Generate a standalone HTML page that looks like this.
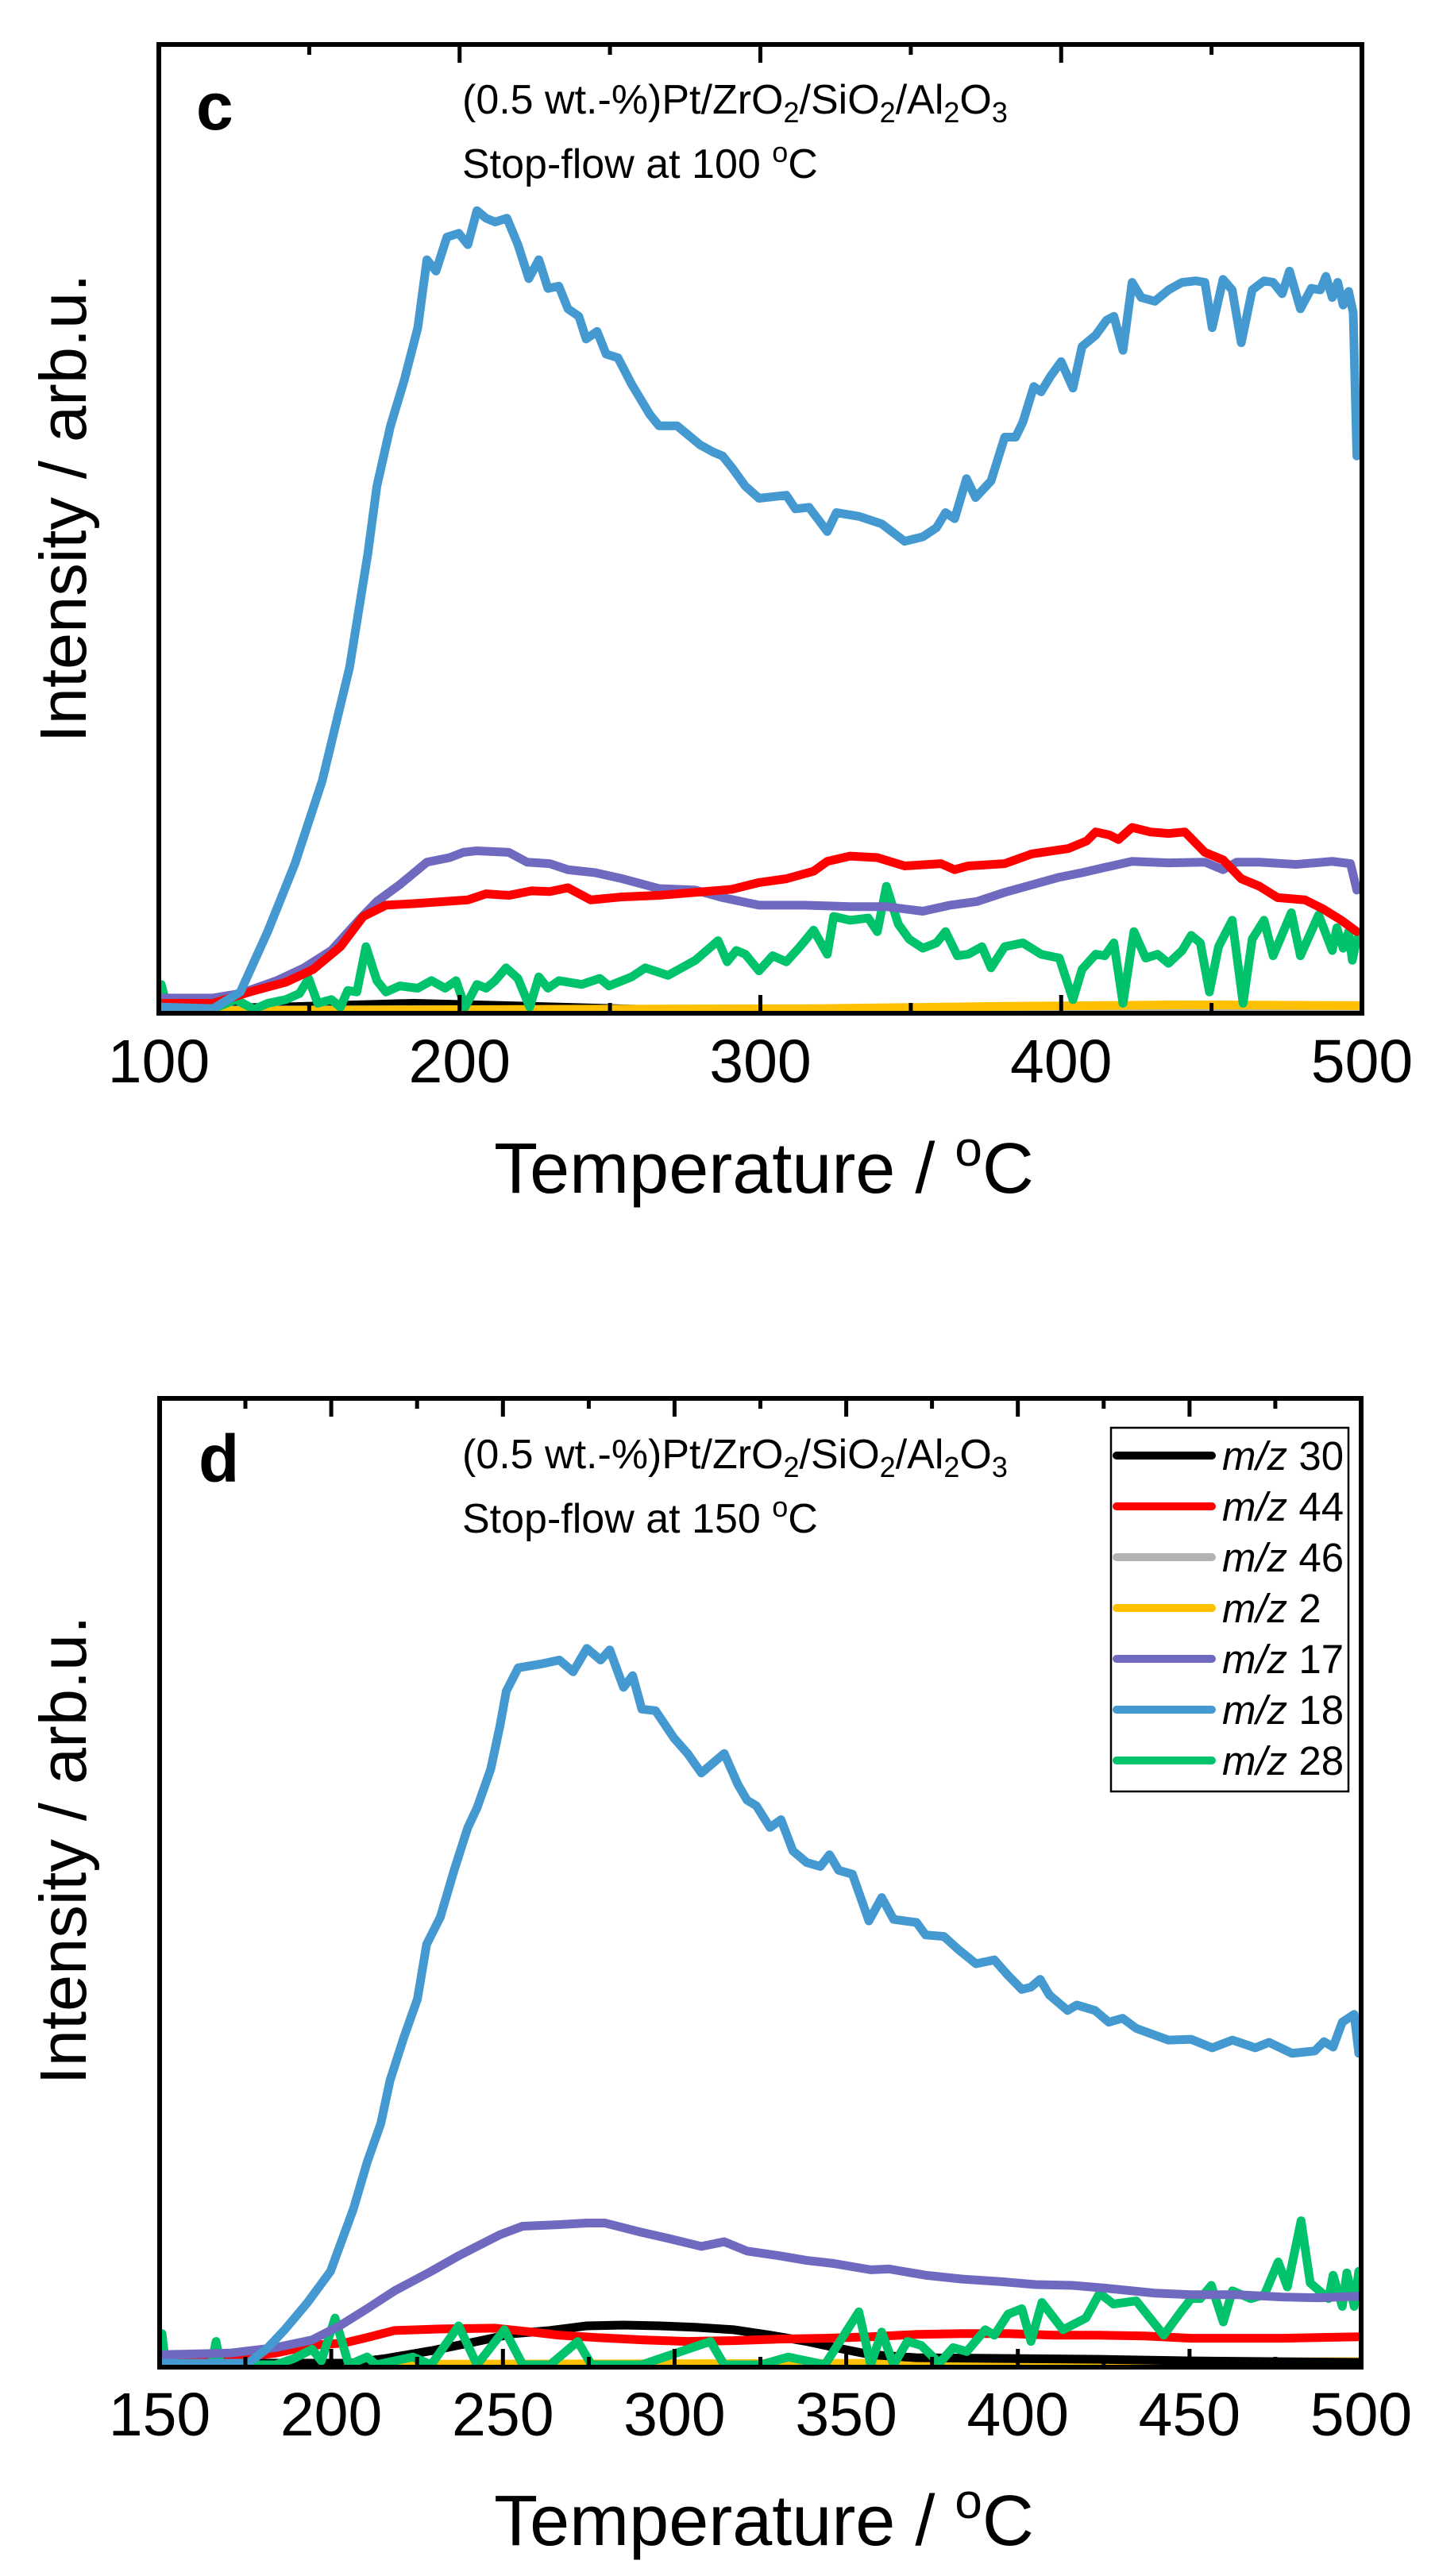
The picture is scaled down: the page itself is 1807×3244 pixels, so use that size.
<!DOCTYPE html>
<html><head><meta charset="utf-8"><style>
html,body{margin:0;padding:0;background:#fff}
svg{display:block}
text{font-family:"Liberation Sans",Arial,sans-serif;fill:#000}
</style></head><body>
<svg width="1807" height="3244" viewBox="0 0 1807 3244" xmlns="http://www.w3.org/2000/svg">
<defs>
<clipPath id="cc"><rect x="203" y="59" width="1509" height="1214"/></clipPath>
<clipPath id="cd"><rect x="204" y="1764" width="1507" height="1214"/></clipPath>
</defs>
<rect width="1807" height="3244" fill="#fff"/>

<!-- ================= Panel c ================= -->
<g clip-path="url(#cc)">
<svg x="203" y="59" width="1509" height="1214" viewBox="173 58 1317 1277" preserveAspectRatio="none" overflow="visible">
<g fill="none" stroke-width="11" stroke-linejoin="round" stroke-linecap="round">
<polyline vector-effect="non-scaling-stroke" stroke="#000" points="173,1333 300,1330 450,1325 550,1328 700,1333 1490,1333"/>
<polyline vector-effect="non-scaling-stroke" stroke="#b3b3b3" points="173,1334 1490,1332"/>
<polyline vector-effect="non-scaling-stroke" stroke="#ffc000" points="173,1335 600,1333 900,1332 1100,1329 1300,1327 1490,1328"/>
<polyline vector-effect="non-scaling-stroke" stroke="#00c36b" points="173,1300 180,1332 200,1330 215,1325 230,1332 255,1320 275,1333 290,1325 310,1320 325,1312 335,1292 345,1325 360,1320 370,1330 378,1308 388,1310 398,1250 410,1295 420,1310 435,1302 455,1305 470,1295 485,1305 497,1295 507,1330 520,1300 530,1305 540,1295 552,1278 565,1292 578,1330 588,1290 598,1305 610,1295 635,1300 655,1292 665,1302 690,1290 705,1278 730,1288 760,1268 785,1242 795,1270 805,1255 815,1260 830,1282 845,1262 860,1270 875,1250 890,1228 905,1260 912,1210 930,1215 950,1212 960,1230 970,1170 983,1220 995,1240 1010,1252 1025,1245 1035,1230 1048,1262 1060,1260 1075,1250 1085,1278 1100,1250 1120,1245 1140,1260 1160,1265 1175,1320 1185,1280 1200,1260 1210,1262 1220,1245 1230,1325 1242,1230 1255,1265 1268,1260 1280,1272 1295,1255 1305,1235 1315,1245 1325,1310 1335,1250 1350,1215 1362,1325 1372,1240 1385,1215 1395,1262 1415,1205 1425,1262 1445,1208 1460,1255 1465,1225 1472,1252 1478,1230 1482,1268 1487,1240"/>
<polyline vector-effect="non-scaling-stroke" stroke="#6f6abf" points="173,1318 230,1318 260,1312 300,1295 330,1278 360,1255 390,1215 410,1190 435,1168 465,1138 490,1132 505,1125 520,1123 555,1125 575,1138 600,1140 620,1148 650,1152 680,1160 720,1173 760,1175 790,1185 830,1195 880,1195 930,1197 970,1197 1010,1203 1040,1195 1070,1190 1100,1178 1130,1168 1160,1158 1185,1152 1210,1145 1240,1137 1280,1139 1320,1138 1340,1148 1355,1138 1380,1138 1420,1141 1460,1137 1480,1140 1487,1175"/>
<polyline vector-effect="non-scaling-stroke" stroke="#ff0000" points="173,1325 230,1325 270,1310 310,1297 340,1280 370,1250 395,1210 420,1195 450,1193 510,1188 530,1180 555,1182 580,1176 600,1177 620,1172 645,1188 680,1184 720,1182 760,1178 800,1174 830,1165 860,1160 890,1150 905,1137 930,1130 960,1132 990,1143 1030,1140 1045,1148 1060,1143 1100,1140 1130,1127 1170,1120 1190,1110 1200,1098 1215,1102 1225,1108 1240,1092 1260,1098 1280,1100 1298,1098 1320,1125 1340,1135 1360,1160 1380,1170 1400,1185 1430,1188 1450,1200 1470,1215 1487,1230"/>
<polyline vector-effect="non-scaling-stroke" stroke="#4499d0" points="173,1330 230,1332 260,1310 290,1230 320,1140 350,1030 380,880 400,730 410,640 425,560 440,500 455,430 465,340 475,355 487,310 500,305 510,320 520,275 530,285 540,290 553,285 565,320 577,365 588,340 598,378 610,375 620,405 632,415 640,445 652,435 662,465 675,470 690,505 710,545 720,560 740,560 765,585 780,595 790,600 800,615 815,640 830,656 860,652 870,670 885,668 905,700 915,675 940,680 965,690 990,713 1010,707 1025,695 1035,675 1045,683 1058,630 1068,655 1085,633 1100,575 1112,575 1120,555 1132,508 1140,515 1150,495 1162,475 1175,510 1185,455 1200,440 1212,420 1220,415 1230,460 1240,370 1250,390 1265,395 1280,380 1295,370 1310,368 1320,370 1328,430 1340,366 1350,380 1360,450 1372,380 1385,368 1395,370 1405,385 1413,355 1425,405 1437,378 1447,380 1453,362 1460,390 1466,370 1472,400 1478,382 1483,410 1487,600"/>
</g>
</svg>
</g>
<rect x="200" y="56" width="1515" height="1220" fill="none" stroke="#000" stroke-width="6"/>
<g stroke="#000" stroke-width="5">
<line x1="200" y1="1273" x2="200" y2="1253"/><line x1="578.75" y1="1273" x2="578.75" y2="1253"/><line x1="957.5" y1="1273" x2="957.5" y2="1253"/><line x1="1336.25" y1="1273" x2="1336.25" y2="1253"/>
<line x1="389.4" y1="1273" x2="389.4" y2="1263"/><line x1="768.1" y1="1273" x2="768.1" y2="1263"/><line x1="1146.9" y1="1273" x2="1146.9" y2="1263"/><line x1="1525.6" y1="1273" x2="1525.6" y2="1263"/>
<line x1="578.75" y1="59" x2="578.75" y2="79"/><line x1="957.5" y1="59" x2="957.5" y2="79"/><line x1="1336.25" y1="59" x2="1336.25" y2="79"/>
<line x1="389.4" y1="59" x2="389.4" y2="69"/><line x1="768.1" y1="59" x2="768.1" y2="69"/><line x1="1146.9" y1="59" x2="1146.9" y2="69"/><line x1="1525.6" y1="59" x2="1525.6" y2="69"/>
</g>
<g font-size="77" text-anchor="middle">
<text x="200" y="1363">100</text><text x="578.75" y="1363">200</text><text x="957.5" y="1363">300</text><text x="1336.25" y="1363">400</text><text x="1715" y="1363">500</text>
</g>
<text x="247" y="163" font-size="84" font-weight="bold">c</text>
<text x="582" y="143" font-size="52">(0.5 wt.-%)Pt/ZrO<tspan font-size="36" dy="11">2</tspan><tspan dy="-11">/SiO</tspan><tspan font-size="36" dy="11">2</tspan><tspan dy="-11">/Al</tspan><tspan font-size="36" dy="11">2</tspan><tspan dy="-11">O</tspan><tspan font-size="36" dy="11">3</tspan></text>
<text x="582" y="224" font-size="52">Stop-flow at 100 <tspan font-size="36" dy="-20">o</tspan><tspan dy="20">C</tspan></text>
<text transform="translate(108,640) rotate(-90)" font-size="83" text-anchor="middle">Intensity / arb.u.</text>
<text x="962" y="1502" font-size="90" text-anchor="middle">Temperature / <tspan font-size="62" dy="-34">o</tspan><tspan dy="34">C</tspan></text>

<!-- ================= Panel d ================= -->
<g clip-path="url(#cd)">
<svg x="204" y="1764" width="1507" height="1214" viewBox="176 62 1307 1238" preserveAspectRatio="none" overflow="visible">
<g fill="none" stroke-width="11" stroke-linejoin="round" stroke-linecap="round">
<polyline vector-effect="non-scaling-stroke" stroke="#b3b3b3" points="176,1300 1483,1298"/>
<polyline vector-effect="non-scaling-stroke" stroke="#ffc000" points="176,1300 600,1299 1000,1298 1483,1296"/>
<polyline vector-effect="non-scaling-stroke" stroke="#000" points="176,1298 380,1298 420,1292 470,1282 520,1270 560,1260 600,1256 640,1250 680,1249 720,1250 760,1252 800,1255 840,1262 880,1270 920,1280 950,1287 1000,1291 1100,1292 1200,1293 1300,1295 1483,1297"/>
<polyline vector-effect="non-scaling-stroke" stroke="#ff0000" points="176,1293 250,1292 300,1285 340,1275 375,1272 400,1265 430,1256 480,1254 540,1253 580,1258 610,1262 650,1265 700,1268 750,1270 800,1269 850,1267 900,1266 950,1264 1000,1261 1050,1260 1100,1260 1150,1262 1200,1262 1250,1263 1300,1266 1400,1266 1483,1264"/>
<polyline vector-effect="non-scaling-stroke" stroke="#00c36b" points="176,1260 180,1300 230,1300 235,1270 240,1300 300,1300 320,1292 340,1280 350,1295 365,1240 380,1300 400,1290 410,1300 450,1290 470,1300 500,1250 520,1300 550,1255 570,1300 600,1300 630,1270 645,1300 700,1300 775,1270 790,1300 830,1300 860,1290 900,1300 937,1232 950,1300 962,1258 975,1300 990,1270 1005,1275 1025,1298 1040,1278 1055,1283 1075,1255 1085,1262 1100,1235 1115,1228 1125,1270 1137,1220 1160,1255 1185,1240 1200,1208 1215,1222 1240,1218 1270,1262 1290,1230 1300,1215 1310,1215 1322,1198 1335,1245 1345,1205 1365,1215 1380,1210 1395,1168 1405,1200 1420,1115 1430,1195 1450,1215 1455,1185 1465,1225 1470,1182 1478,1225 1483,1180"/>
<polyline vector-effect="non-scaling-stroke" stroke="#6f6abf" points="176,1287 250,1285 300,1278 340,1268 370,1250 400,1228 430,1205 470,1180 500,1160 520,1148 545,1133 570,1122 610,1120 640,1118 660,1118 680,1124 700,1130 730,1138 765,1148 790,1142 815,1154 850,1160 880,1166 910,1170 950,1178 970,1177 1010,1185 1050,1190 1090,1193 1130,1197 1170,1198 1210,1202 1260,1208 1300,1210 1350,1210 1400,1213 1440,1214 1483,1212"/>
<polyline vector-effect="non-scaling-stroke" stroke="#4499d0" points="176,1298 270,1298 290,1280 310,1255 335,1220 360,1180 385,1100 400,1040 415,990 425,935 440,880 455,830 465,760 480,725 495,665 510,610 520,585 535,535 545,480 552,435 565,405 590,400 610,395 625,410 640,380 655,395 665,382 680,430 690,415 700,458 715,460 735,495 750,515 765,540 790,515 805,555 815,575 825,582 840,610 852,600 865,640 880,655 895,660 905,645 915,665 930,670 948,730 962,700 975,728 1000,732 1010,748 1030,750 1045,766 1065,785 1085,780 1100,800 1115,818 1125,815 1135,805 1145,825 1165,845 1175,838 1195,845 1210,860 1225,855 1240,868 1275,883 1300,882 1323,893 1345,883 1370,893 1385,886 1410,900 1435,897 1445,885 1455,892 1465,860 1478,850 1483,900"/>
</g>
</svg>
</g>
<rect x="201" y="1761" width="1513" height="1220" fill="none" stroke="#000" stroke-width="6"/>
<g stroke="#000" stroke-width="5">
<line x1="417.1" y1="2978" x2="417.1" y2="2958"/><line x1="633.3" y1="2978" x2="633.3" y2="2958"/><line x1="849.4" y1="2978" x2="849.4" y2="2958"/><line x1="1065.6" y1="2978" x2="1065.6" y2="2958"/><line x1="1281.7" y1="2978" x2="1281.7" y2="2958"/><line x1="1497.9" y1="2978" x2="1497.9" y2="2958"/>
<line x1="309" y1="2978" x2="309" y2="2968"/><line x1="525.2" y1="2978" x2="525.2" y2="2968"/><line x1="741.4" y1="2978" x2="741.4" y2="2968"/><line x1="957.5" y1="2978" x2="957.5" y2="2968"/><line x1="1173.6" y1="2978" x2="1173.6" y2="2968"/><line x1="1389.8" y1="2978" x2="1389.8" y2="2968"/><line x1="1605.9" y1="2978" x2="1605.9" y2="2968"/>
<line x1="417.1" y1="1764" x2="417.1" y2="1784"/><line x1="633.3" y1="1764" x2="633.3" y2="1784"/><line x1="849.4" y1="1764" x2="849.4" y2="1784"/><line x1="1065.6" y1="1764" x2="1065.6" y2="1784"/><line x1="1281.7" y1="1764" x2="1281.7" y2="1784"/><line x1="1497.9" y1="1764" x2="1497.9" y2="1784"/>
<line x1="309" y1="1764" x2="309" y2="1774"/><line x1="525.2" y1="1764" x2="525.2" y2="1774"/><line x1="741.4" y1="1764" x2="741.4" y2="1774"/><line x1="957.5" y1="1764" x2="957.5" y2="1774"/><line x1="1173.6" y1="1764" x2="1173.6" y2="1774"/><line x1="1389.8" y1="1764" x2="1389.8" y2="1774"/><line x1="1605.9" y1="1764" x2="1605.9" y2="1774"/>
</g>
<g font-size="77" text-anchor="middle">
<text x="201" y="3067">150</text><text x="417.1" y="3067">200</text><text x="633.3" y="3067">250</text><text x="849.4" y="3067">300</text><text x="1065.6" y="3067">350</text><text x="1281.7" y="3067">400</text><text x="1497.9" y="3067">450</text><text x="1714" y="3067">500</text>
</g>
<text x="250" y="1866" font-size="84" font-weight="bold">d</text>
<text x="582" y="1849" font-size="52">(0.5 wt.-%)Pt/ZrO<tspan font-size="36" dy="11">2</tspan><tspan dy="-11">/SiO</tspan><tspan font-size="36" dy="11">2</tspan><tspan dy="-11">/Al</tspan><tspan font-size="36" dy="11">2</tspan><tspan dy="-11">O</tspan><tspan font-size="36" dy="11">3</tspan></text>
<text x="582" y="1930" font-size="52">Stop-flow at 150 <tspan font-size="36" dy="-20">o</tspan><tspan dy="20">C</tspan></text>
<text transform="translate(108,2330) rotate(-90)" font-size="83" text-anchor="middle">Intensity / arb.u.</text>
<text x="962" y="3205" font-size="90" text-anchor="middle">Temperature / <tspan font-size="62" dy="-34">o</tspan><tspan dy="34">C</tspan></text>

<!-- legend -->
<rect x="1399" y="1798" width="299" height="458" fill="#fff" stroke="#000" stroke-width="2.5"/>
<g stroke-width="10" stroke-linecap="round">
<line x1="1406" y1="1833" x2="1526" y2="1833" stroke="#000"/>
<line x1="1406" y1="1897" x2="1526" y2="1897" stroke="#ff0000"/>
<line x1="1406" y1="1961" x2="1526" y2="1961" stroke="#b3b3b3"/>
<line x1="1406" y1="2025" x2="1526" y2="2025" stroke="#ffc000"/>
<line x1="1406" y1="2089" x2="1526" y2="2089" stroke="#6f6abf"/>
<line x1="1406" y1="2153" x2="1526" y2="2153" stroke="#4499d0"/>
<line x1="1406" y1="2217" x2="1526" y2="2217" stroke="#00c36b"/>
</g>
<g font-size="51">
<text x="1539" y="1851"><tspan font-style="italic">m/z</tspan> 30</text>
<text x="1539" y="1915"><tspan font-style="italic">m/z</tspan> 44</text>
<text x="1539" y="1979"><tspan font-style="italic">m/z</tspan> 46</text>
<text x="1539" y="2043"><tspan font-style="italic">m/z</tspan> 2</text>
<text x="1539" y="2107"><tspan font-style="italic">m/z</tspan> 17</text>
<text x="1539" y="2171"><tspan font-style="italic">m/z</tspan> 18</text>
<text x="1539" y="2235"><tspan font-style="italic">m/z</tspan> 28</text>
</g>
</svg>
</body></html>
